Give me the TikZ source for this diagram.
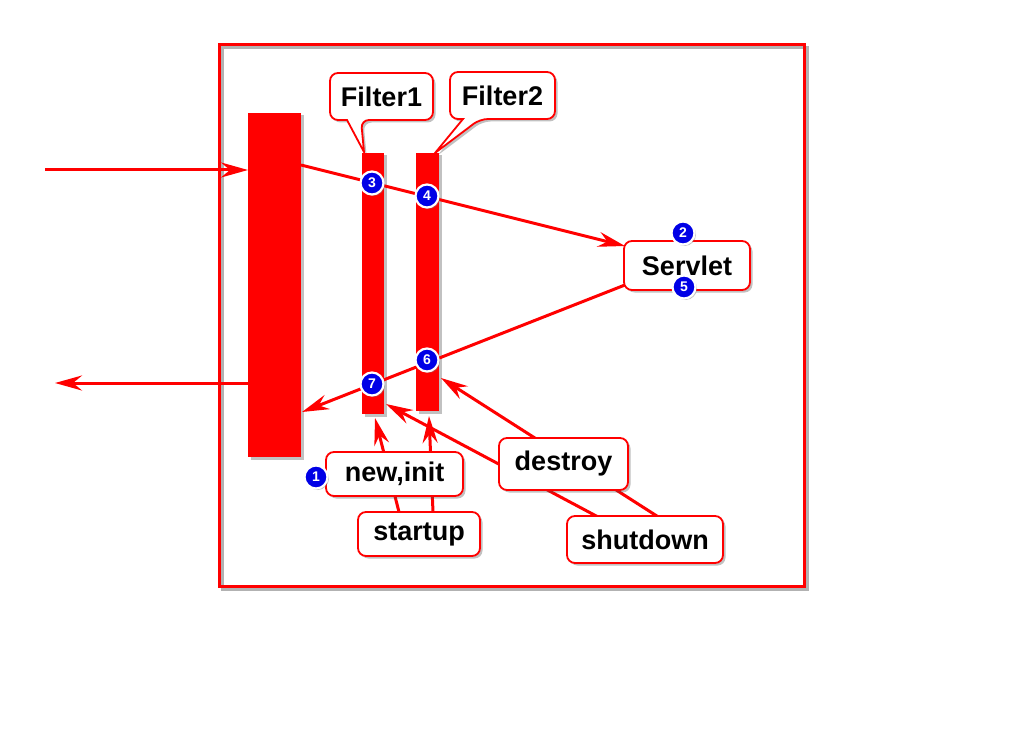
\documentclass[tikz,border=0pt]{standalone}
\usepackage{fontspec}
\setmainfont{Liberation Sans}
\usetikzlibrary{arrows.meta,shadows}
\definecolor{rred}{RGB}{255,0,0}
\definecolor{nblue}{RGB}{0,0,230}
\begin{document}
\begin{tikzpicture}[x=1pt,y=-1pt,
  shad/.style={drop shadow={shadow xshift=2.5pt,shadow yshift=-2.5pt,opacity=0.35,fill=black!70}},
  bar/.style={fill=rred,draw=none,inner sep=0pt,shad},
  lbl/.style={draw=rred,line width=1.8pt,fill=white,rounded corners=8pt,inner sep=0pt,font=\bfseries\fontsize{27}{30}\selectfont,shad},
  conn/.style={draw=rred,line width=3pt,-{Stealth[length=27pt,width=15pt,inset=9pt]}},
  num/.style={circle,fill=nblue,draw=white,line width=2.2pt,inner sep=0pt,minimum size=23pt,text=white,font=\bfseries\fontsize{14}{14}\selectfont,drop shadow={shadow xshift=1.5pt,shadow yshift=-1.5pt,opacity=0.45}},
  callout/.style={draw=rred,line width=1.8pt,fill=white,shad}
]
\useasboundingbox (0,0) rectangle (1024,738);
% outer frame with shadow
\draw[black,opacity=0.3,line width=3pt] (222,48) rectangle (807,589);
\draw[draw=rred,line width=3pt] (219,45) rectangle (804,586);

% callout shapes
\path[callout] (380,73) [rounded corners=8pt] -- (433,73) -- (433,120) -- (361,120) [sharp corners] -- (364,152) -- (347,120) [rounded corners=8pt] -- (330,120) -- (330,73) -- cycle;
\path[callout] (500,72) [rounded corners=8pt] -- (555,72) -- (555,119) -- (480,119) [sharp corners] -- (435,153) -- (463,119) [rounded corners=8pt] -- (450,119) -- (450,72) -- cycle;
\node[font=\bfseries\fontsize{27}{30}\selectfont] (f1lbl) at (381.5,97) {Filter1};
\node[font=\bfseries\fontsize{27}{30}\selectfont] (f2lbl) at (502.5,96) {Filter2};

% bars
\node[bar,minimum width=53pt,minimum height=344pt] (big) at (274.5,285) {};
\node[bar,minimum width=22pt,minimum height=261pt] (f1) at (373,283.5) {};
\node[bar,minimum width=23pt,minimum height=258pt] (f2) at (427.5,282) {};

% coordinates
\coordinate (inS) at (45,170);
\coordinate (inE) at (248,170);
\coordinate (outS) at (248,383);
\coordinate (outE) at (55,383);
\coordinate (reqS) at (301,165);
\coordinate (reqE) at (625,246);
\coordinate (resS) at (630,283);
\coordinate (resE) at (302,412);
\coordinate (st1) at (399,512);
\coordinate (st2) at (433,512);
\coordinate (sd1) at (600,518);
\coordinate (sd2) at (660,518);
\coordinate (f1b) at (375,418);
\coordinate (f2b) at (429,416);
\coordinate (f1d) at (386,404);
\coordinate (f2d) at (441,378);

% connectors
\draw[conn] (inS) -- (inE);
\draw[conn] (outS) -- (outE);
\draw[conn] (reqS) -- (reqE);
\draw[conn] (resS) -- (resE);
\draw[conn] (st1) -- (f1b);
\draw[conn] (st2) -- (f2b);
\draw[conn] (sd1) -- (f1d);
\draw[conn] (sd2) -- (f2d);

% label boxes
\node[lbl,minimum width=126pt,minimum height=49pt] (servlet) at (687,265.5) {Servlet\hspace{8pt}};
\node[lbl,minimum width=137pt,minimum height=44pt] (newinit) at (394.5,474) {new,init\hspace{6pt}};
\node[lbl,minimum width=122pt,minimum height=44pt] (startup) at (419,534) {startup\hspace{6pt}};
\node[lbl,minimum width=129pt,minimum height=52pt] (destroy) at (563.5,464) {destroy\hspace{8pt}};
\node[lbl,minimum width=156pt,minimum height=47pt] (shutdown) at (645,539.5) {shutdown\hspace{6pt}};

% numbers
\node[num] (n1) at (316,477) {1};
\node[num] (n2) at (683,233) {2};
\node[num] (n3) at (372,183) {3};
\node[num] (n4) at (427,196) {4};
\node[num] (n5) at (684,287) {5};
\node[num] (n6) at (427,360) {6};
\node[num] (n7) at (372,384) {7};
\end{tikzpicture}
\end{document}
